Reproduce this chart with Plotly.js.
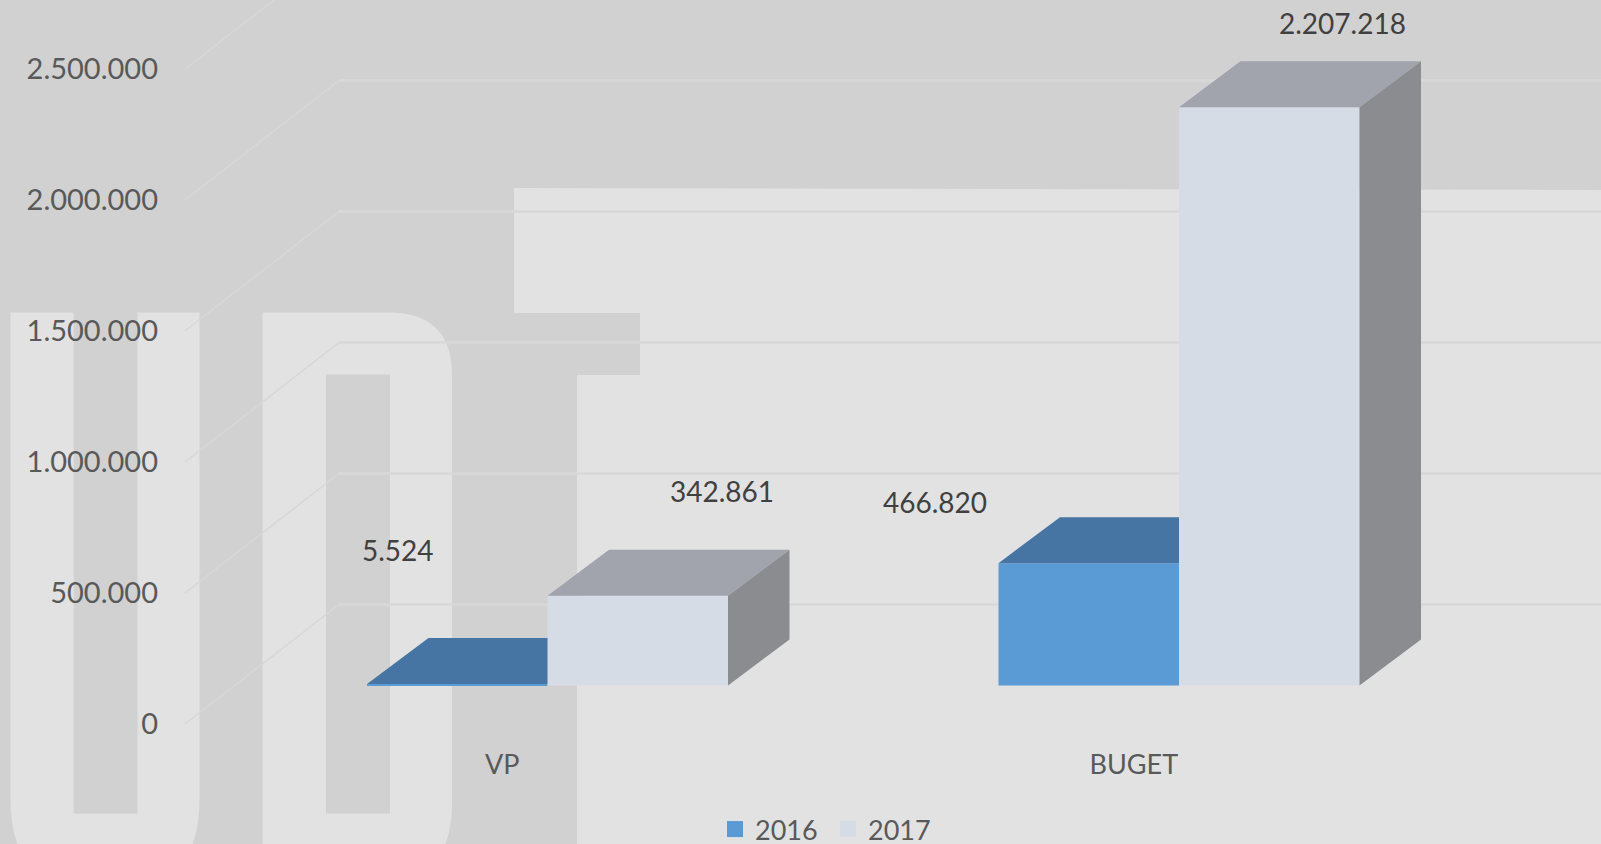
<!DOCTYPE html>
<html>
<head>
<meta charset="utf-8">
<script src="https://cdn.plot.ly/plotly-3.0.1.min.js"></script>
<style>html,body{margin:0;padding:0;background:#d1d1d1;overflow:hidden}#chart{width:1601px;height:844px}</style>
</head>
<body>
<div id="chart"></div>
<script>
// ---- data ----
const categories = ["VP", "BUGET"];
const series2016 = [5524, 466820];
const series2017 = [342861, 2207218];
const seriesNames = ["2016", "2017"];
const yTicks = [0, 500000, 1000000, 1500000, 2000000, 2500000];

// ---- geometry of the page and the pseudo-3D projection ----
const W = 1601, H = 844;
const pxPerUnit = 0.000262, pxPerCat = 631.5;
const slot = 180.5 / pxPerCat;               // width of one bar
const depthX = 61.5 / pxPerCat, depthY = 46 / pxPerUnit;  // bar depth
const rangeX = (px0) => [-px0 / pxPerCat, (W - px0) / pxPerCat];
const rangeY = (py0) => [(py0 - H) / pxPerUnit, py0 / pxPerUnit];
const fmt = (v) => String(v).replace(/\B(?=(\d{3})+$)/g, ".");
const catPos = categories.map((_, i) => i);

// floor / wall gridlines (in the tick axis)
const sideX0 = (185 - 502.3) / pxPerCat, sideX1 = (339 - 502.3) / pxPerCat, wallEnd = rangeX(502.3)[1];
const wallLift = (724 - 604.5) / pxPerUnit;
const sideX = [], sideY = [], wallX = [], wallY = [];
yTicks.forEach(v => {
  sideX.push(sideX0, sideX1, null);
  sideY.push(v, v + wallLift, null);
  wallX.push(sideX1, wallEnd, null);
  wallY.push(v + wallLift, v + wallLift, null);
});

// faces of the boxes, computed from the values
function faces(values, left, right, kind) {
  const xs = [], ys = [];
  values.forEach((v, i) => {
    const a = catPos[i] + left, b = catPos[i] + right;
    if (kind === "top") {
      xs.push(a, a + depthX, b + (right > 0 ? depthX : 0), b, a, null);
      ys.push(v, v + depthY, v + depthY, v, v, null);
    } else {
      xs.push(b, b + depthX, b + depthX, b, b, null);
      ys.push(0, depthY, v + depthY, v, 0, null);
    }
  });
  return { x: xs, y: ys };
}
const poly = (f, color) => ({
  type: "scatter", mode: "lines", x: f.x, y: f.y, xaxis: "x2", yaxis: "y2",
  fill: "toself", fillcolor: color, line: { width: 0, color: color },
  showlegend: false, hoverinfo: "skip"
});
const bar = (vals, name, color) => ({
  type: "bar", x: catPos, y: vals, name: name, xaxis: "x2", yaxis: "y2",
  marker: { color: color, line: { width: 0 } }, showlegend: false
});
const legendItem = (name, color) => ({
  type: "scatter", mode: "markers", x: [null], y: [null], name: name,
  marker: { symbol: "square", size: 16, color: color }, showlegend: true
});
const gridLine = (xs, ys, color, width) => ({
  type: "scatter", mode: "lines", x: xs, y: ys, connectgaps: false,
  line: { color: color, width: width }, showlegend: false, hoverinfo: "skip"
});

const C16 = "#5b9bd5", C17 = "#d6dce5";
const traces = [
  gridLine(sideX, sideY, "#d7d7d7", 1.5),
  gridLine(wallX, wallY, "#d8d8d8", 2.5),
  legendItem(seriesNames[0], C16),
  legendItem(seriesNames[1], C17),
  bar(series2016, seriesNames[0], C16),
  bar(series2017, seriesNames[1], C17),
  poly(faces(series2016, -slot, 0, "top"), "#4675a3"),
  poly(faces(series2017, 0, slot, "top"), "#a1a4ad"),
  poly(faces(series2017, 0, slot, "side"), "#8a8c90")
];

// ---- data labels ----
const labelFont = { family: "Lato, sans-serif", size: 28, color: "#404040" };
const label = (val, i, side, xshift, yshift) => ({
  xref: "x2", yref: "y2", x: catPos[i] + side * slot / 2, y: val,
  text: fmt(val), showarrow: false, font: labelFont, xshift: xshift, yshift: yshift
});
const annotations = [
  label(series2016[0], 0, -1, -59, 134),
  label(series2017[0], 0, 1, 84, 105),
  label(series2016[1], 1, -1, -153.8, 61),
  label(series2017[1], 1, 1, 73.7, 84.5)
];

// ---- light watermark behind the chart (decorative) ----
const X = (x) => (x / W).toFixed(5), Y = (y) => (1 - y / H).toFixed(5);
const P = (x, y) => X(x) + "," + Y(y);
const wmPaths = [
  // U
  "M" + P(10.5, 312.5) + "L" + P(73.7, 312.5) + "L" + P(73.7, 813.7) + "L" + P(137.5, 813.7) + "L" + P(137.5, 312.5) +
  "L" + P(199.5, 312.5) + "L" + P(199.5, 800) + "Q" + P(199.5, 830) + " " + P(190, 850) + "L" + P(20, 850) + "Q" + P(10.5, 830) + " " + P(10.5, 800) + "Z",
  // D outer with hole
  "M" + P(262.5, 312.5) + "L" + P(393, 312.5) + "Q" + P(452, 315) + " " + P(452, 375) + "L" + P(452, 805) + "Q" + P(452, 830) + " " + P(443, 850) +
  "L" + P(262.5, 850) + "Z" +
  "M" + P(326, 374.6) + "L" + P(326, 813.6) + "L" + P(390, 813.6) + "L" + P(390, 374.6) + "Z",
  // T with the rest of the light plane
  "M" + P(514, 188) + "L" + P(1601, 190) + "L" + P(1601, 850) + "L" + P(577, 850) + "L" + P(577, 375) + "L" + P(640, 375) + "L" + P(640, 313) + "L" + P(514, 313) + "Z"
];
const shapes = wmPaths.map(p => ({
  type: "path", xref: "paper", yref: "paper", path: p, layer: "below",
  fillcolor: "#e2e2e2", fillrule: "evenodd", line: { width: 0 }
}));

const tickFont = { family: "Lato, sans-serif", size: 29, color: "#595959" };
const catFont = { family: "Lato, sans-serif", size: 27, color: "#595959" };
const legendFont = { family: "Lato, sans-serif", size: 27, color: "#595959" };
const hiddenAxis = { visible: false, fixedrange: true, showgrid: false, zeroline: false };

const layout = {
  width: W, height: H,
  margin: { l: 0, r: 0, t: 0, b: 0, pad: 0, autoexpand: false },
  paper_bgcolor: "#d1d1d1", plot_bgcolor: "rgba(0,0,0,0)",
  separators: ",.",
  showlegend: true,
  barmode: "group", bargap: 1 - 2 * slot, bargroupgap: 0,
  shapes: shapes,
  annotations: annotations,
  legend: {
    orientation: "h", x: 715 / W, xanchor: "left", y: 1 - 805 / H, yanchor: "top",
    bgcolor: "rgba(0,0,0,0)", font: legendFont, itemclick: false, itemdoubleclick: false,
    entrywidth: 68, entrywidthmode: "pixels"
  },
  xaxis: {
    type: "linear", range: rangeX(502.3), domain: [0, 1], anchor: "free", position: 1 - 746 / H,
    tickmode: "array", tickvals: catPos, ticktext: categories, tickfont: catFont,
    showgrid: false, zeroline: false, showline: false, ticks: "", fixedrange: true
  },
  yaxis: {
    type: "linear", range: rangeY(724), domain: [0, 1], anchor: "free", position: 158 / W,
    tickmode: "array", tickvals: yTicks, tickformat: ",d", tickfont: tickFont,
    showgrid: false, zeroline: false, showline: false, ticks: "", fixedrange: true
  },
  xaxis2: Object.assign({ type: "linear", range: rangeX(547.5), overlaying: "x", anchor: "y2" }, hiddenAxis),
  yaxis2: Object.assign({ type: "linear", range: rangeY(685.5), overlaying: "y", anchor: "x2" }, hiddenAxis)
};

Plotly.newPlot("chart", traces, layout, { displayModeBar: false, responsive: false });
</script>
</body>
</html>
